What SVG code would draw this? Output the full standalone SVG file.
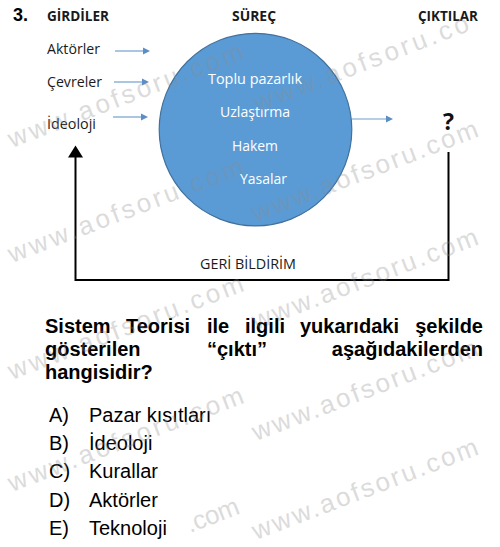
<svg xmlns="http://www.w3.org/2000/svg" width="500" height="547" viewBox="0 0 500 547">
<style>
.lbl{font-family:"Open Sans","Liberation Sans",sans-serif;font-size:15px;fill:#1a1a1a}
.hdr{font-family:"Open Sans","Liberation Sans",sans-serif;font-size:14px;font-weight:bold;fill:#1a1a1a}
.in{font-family:"Open Sans","Liberation Sans",sans-serif;font-size:14px;fill:#ffffff}
.q{font-family:"Liberation Sans",Arial,sans-serif;font-size:20px;font-weight:bold;fill:#000}
.opt{font-family:"Liberation Sans",Arial,sans-serif;font-size:20px;fill:#000}
.wm{font-family:"Liberation Sans",Arial,sans-serif;font-size:26px;fill:#8c8c8c;opacity:0.3}
.ba{stroke:#6f9fcf;stroke-width:1.2;fill:none}
.bh{fill:#5b8fc4}
</style>
<rect width="500" height="547" fill="#ffffff"/>
<text x="13" y="21" style="font-family:'Liberation Sans',Arial,sans-serif;font-size:18px;font-weight:bold;fill:#000">3.</text>
<g id="headers">
<text class="hdr" x="47" y="21" textLength="62" lengthAdjust="spacingAndGlyphs">GİRDİLER</text>
<text class="hdr" x="232" y="21" textLength="44" lengthAdjust="spacingAndGlyphs">SÜREÇ</text>
<text class="hdr" x="418" y="21" textLength="60" lengthAdjust="spacingAndGlyphs">ÇIKTILAR</text>
</g>
<g id="inputs">
<text class="lbl" x="47" y="54" textLength="53" lengthAdjust="spacingAndGlyphs">Aktörler</text>
<text class="lbl" x="47" y="87" textLength="55" lengthAdjust="spacingAndGlyphs">Çevreler</text>
<text class="lbl" x="47" y="129" textLength="49" lengthAdjust="spacingAndGlyphs">İdeoloji</text>
</g>
<g id="process">
<circle cx="255.5" cy="129.6" r="96.3" fill="#5b9bd5" stroke="#41719c" stroke-width="1.2"/>
<text class="in" x="208" y="84" textLength="94" lengthAdjust="spacingAndGlyphs">Toplu pazarlık</text>
<text class="in" x="220" y="117" textLength="70" lengthAdjust="spacingAndGlyphs">Uzlaştırma</text>
<text class="in" x="232" y="151" textLength="46" lengthAdjust="spacingAndGlyphs">Hakem</text>
<text class="in" x="240" y="184" textLength="47" lengthAdjust="spacingAndGlyphs">Yasalar</text>
</g>
<g id="output">
<text x="443" y="130" style="font-family:'Open Sans','Liberation Sans',sans-serif;font-size:23px;font-weight:bold;fill:#111">?</text>
</g>
<g id="connectors">
<line class="ba" x1="115" y1="51" x2="144" y2="51"/>
<polygon class="bh" points="143,47.5 150,51 143,54.5"/>
<line class="ba" x1="114" y1="82" x2="143" y2="82"/>
<polygon class="bh" points="142,78.5 149,82 142,85.5"/>
<line class="ba" x1="113" y1="117" x2="142" y2="117"/>
<polygon class="bh" points="141,113.5 148,117 141,120.5"/>
<line class="ba" x1="352" y1="119" x2="387" y2="119"/>
<polygon class="bh" points="386,115.5 393,119 386,122.5"/>
<polyline points="448.5,152 448.5,280 75.5,280 75.5,156" fill="none" stroke="#000" stroke-width="2"/>
<polygon points="75.5,145.5 68,157.5 83,157.5" fill="#000"/>
</g>
<g id="feedback-label">
<text class="lbl" x="200" y="269" textLength="96" lengthAdjust="spacingAndGlyphs">GERİ BİLDİRİM</text>
</g>
<g id="question">
<text class="q" x="45" y="333">Sistem</text>
<text class="q" x="126" y="333">Teorisi</text>
<text class="q" x="207" y="333">ile</text>
<text class="q" x="245" y="333">ilgili</text>
<text class="q" x="300" y="333">yukarıdaki</text>
<text class="q" x="483" y="333" text-anchor="end">şekilde</text>
<text class="q" x="45" y="356">gösterilen</text>
<text class="q" x="207" y="356">“çıktı”</text>
<text class="q" x="483" y="356" text-anchor="end">aşağıdakilerden</text>
<text class="q" x="45" y="379">hangisidir?</text>
</g>
<g id="options">
<text class="opt" x="49" y="422">A)</text><text class="opt" x="89" y="422">Pazar kısıtları</text>
<text class="opt" x="49" y="450">B)</text><text class="opt" x="89" y="450">İdeoloji</text>
<text class="opt" x="49" y="478">C)</text><text class="opt" x="89" y="478">Kurallar</text>
<text class="opt" x="49" y="507">D)</text><text class="opt" x="89" y="507">Aktörler</text>
<text class="opt" x="49" y="535">E)</text><text class="opt" x="89" y="535">Teknoloji</text>
</g>
<g id="watermarks">
<text class="wm" transform="translate(12,148) rotate(-21)" textLength="250" lengthAdjust="spacing">www.aofsoru.com</text>
<text class="wm" transform="translate(12,263) rotate(-21)" textLength="250" lengthAdjust="spacing">www.aofsoru.com</text>
<text class="wm" transform="translate(12,380) rotate(-21)" textLength="250" lengthAdjust="spacing">www.aofsoru.com</text>
<text class="wm" transform="translate(12,492) rotate(-21)" textLength="250" lengthAdjust="spacing">www.aofsoru.com</text>
<text class="wm" transform="translate(190,533) rotate(-21)" textLength="55" lengthAdjust="spacing">.com</text>
<text class="wm" transform="translate(258,112) rotate(-21)" textLength="228" lengthAdjust="spacing">www.aofsoru.co</text>
<text class="wm" transform="translate(256,222) rotate(-21)" textLength="240" lengthAdjust="spacing">www.aofsoru.com</text>
<text class="wm" transform="translate(256,330) rotate(-21)" textLength="240" lengthAdjust="spacing">www.aofsoru.com</text>
<text class="wm" transform="translate(256,441) rotate(-21)" textLength="240" lengthAdjust="spacing">www.aofsoru.com</text>
<text class="wm" transform="translate(256,540) rotate(-21)" textLength="240" lengthAdjust="spacing">www.aofsoru.com</text>
</g>
</svg>
